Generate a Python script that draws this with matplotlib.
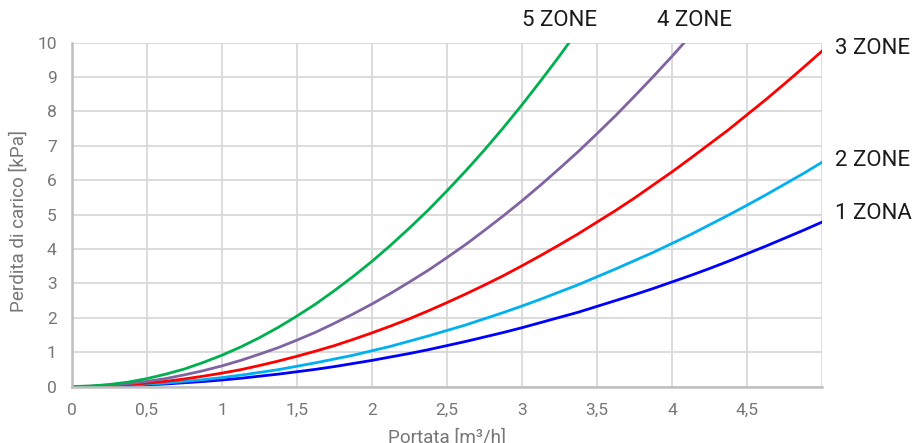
import matplotlib.pyplot as plt

plt.rcParams['font.family'] = ['Roboto', 'DejaVu Sans']

# portata [m3/h] and perdita di carico [kPa]
portata = [0, 0.125, 0.25, 0.375, 0.5, 0.625, 0.75, 0.875, 1, 1.125, 1.25,
           1.375, 1.5, 1.625, 1.75, 1.875, 2, 2.125, 2.25, 2.375, 2.5,
           2.625, 2.75, 2.875, 3, 3.125, 3.25, 3.375, 3.5, 3.625, 3.75,
           3.875, 4, 4.125, 4.25, 4.375, 4.5, 4.625, 4.75, 4.875, 5]
zona_1 = [0, 0.003, 0.01, 0.027, 0.05, 0.074, 0.11, 0.145, 0.19, 0.24, 0.30,
          0.36, 0.43, 0.50, 0.58, 0.67, 0.76, 0.86, 0.96, 1.07, 1.19,
          1.31, 1.44, 1.57, 1.71, 1.86, 2.01, 2.16, 2.33, 2.50, 2.67,
          2.85, 3.04, 3.23, 3.43, 3.64, 3.86, 4.08, 4.31, 4.54, 4.78]
zone_2 = [0, 0.004, 0.02, 0.037, 0.07, 0.10, 0.15, 0.20, 0.26, 0.33, 0.41,
          0.49, 0.59, 0.69, 0.80, 0.91, 1.04, 1.17, 1.32, 1.47, 1.63,
          1.79, 1.97, 2.15, 2.34, 2.54, 2.75, 2.96, 3.19, 3.42, 3.66,
          3.90, 4.16, 4.42, 4.70, 4.98, 5.27, 5.57, 5.88, 6.19, 6.52]
zone_3 = [0, 0.006, 0.02, 0.055, 0.10, 0.15, 0.22, 0.30, 0.39, 0.49, 0.61,
          0.74, 0.88, 1.03, 1.19, 1.37, 1.56, 1.76, 1.97, 2.20, 2.44,
          2.69, 2.95, 3.22, 3.51, 3.81, 4.12, 4.44, 4.78, 5.12, 5.48,
          5.86, 6.24, 6.64, 7.05, 7.46, 7.90, 8.34, 8.80, 9.27, 9.75]
zone_4 = [0, 0.009, 0.04, 0.084, 0.15, 0.23, 0.34, 0.46, 0.60, 0.76, 0.94,
          1.13, 1.35, 1.58, 1.84, 2.11, 2.40, 2.71, 3.04, 3.38, 3.75,
          4.13, 4.54, 4.96, 5.40, 5.86, 6.34, 6.83, 7.35, 7.88, 8.44,
          9.01, 9.60, 10.21]
zone_5 = [0, 0.014, 0.06, 0.128, 0.23, 0.36, 0.51, 0.70, 0.91, 1.15, 1.42,
          1.72, 2.05, 2.40, 2.79, 3.20, 3.64, 4.11, 4.61, 5.13, 5.69,
          6.27, 6.88, 7.52, 8.19, 8.89, 9.61, 10.37]

xtick_vals = [0, 0.5, 1, 1.5, 2, 2.5, 3, 3.5, 4, 4.5, 5]
xtick_labels = ['0', '0,5', '1', '1,5', '2', '2,5', '3', '3,5', '4', '4,5', '']

fig = plt.figure(figsize=(9.16, 4.43), dpi=100)
ax = fig.add_axes([0.0786, 0.1275, 0.8188, 0.7765])

series = [
    (zona_1, '#0000ff'),
    (zone_2, '#00b0f0'),
    (zone_3, '#ff0000'),
    (zone_4, '#8064a2'),
    (zone_5, '#00b050'),
]
for vals, col in series:
    ax.plot(portata[:len(vals)], vals, color=col, lw=2.0, solid_joinstyle='round')

ax.set_xlim(0, 5)
ax.set_ylim(0, 10)
ax.set_xticks(xtick_vals)
ax.set_xticklabels(xtick_labels)
ax.set_yticks(range(0, 11))
ax.grid(True, color='#d9d9d9', lw=1.3)
ax.set_axisbelow(True)
for s in ['top', 'right']:
    ax.spines[s].set_visible(False)
for s in ['left', 'bottom']:
    ax.spines[s].set_color('#bfbfbf')
    ax.spines[s].set_linewidth(1.8)
ax.tick_params(length=0, labelsize=12.5, labelcolor='#767676')
ax.tick_params(axis='x', pad=12)
ax.tick_params(axis='y', pad=11)

fig.text(0.02, 0.5, 'Perdita di carico [kPa]', rotation=90, ha='center', va='center',
         fontsize=13.6, color='#767676')
fig.text(0.4885, 0.012, 'Portata [m³/h]', ha='center', va='center',
         fontsize=13.6, color='#767676')

# curve labels
lab = dict(fontsize=16, color='#1a1a1a', clip_on=False)
ax.text(3.25, 10.65, '5 ZONE', ha='center', va='center', **lab)
ax.text(4.15, 10.65, '4 ZONE', ha='center', va='center', **lab)
ax.text(5.087, 9.84, '3 ZONE', ha='left', va='center', **lab)
ax.text(5.087, 6.58, '2 ZONE', ha='left', va='center', **lab)
ax.text(5.087, 5.04, '1 ZONA', ha='left', va='center', **lab)

fig.savefig('out.png', dpi=100)
